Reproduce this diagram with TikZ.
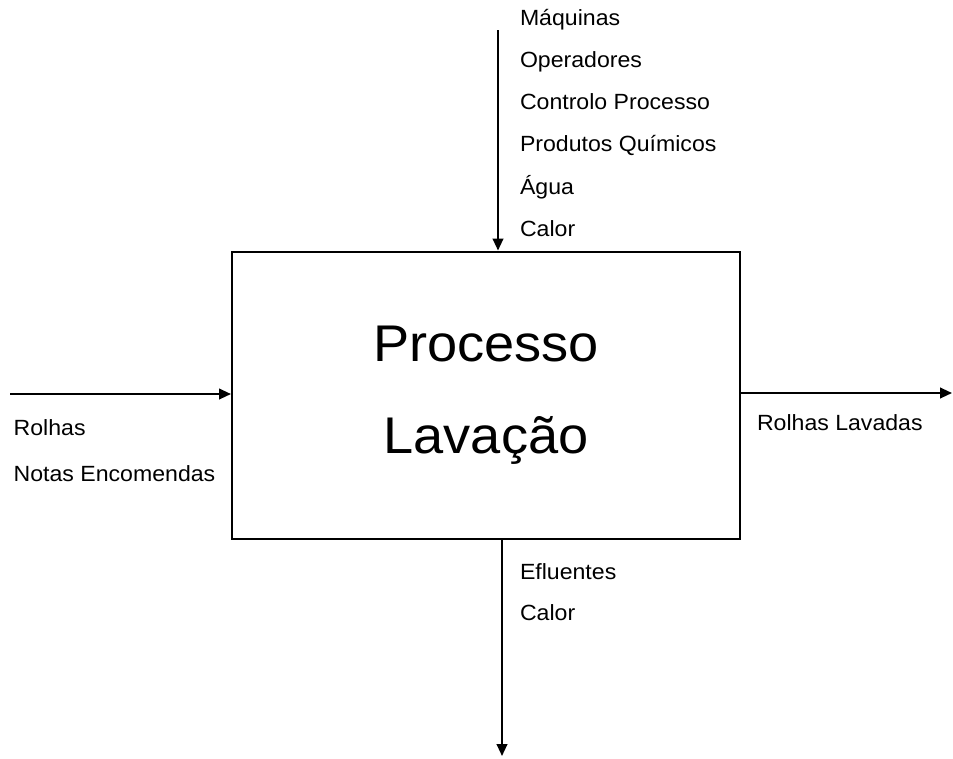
\documentclass[tikz,border=0pt]{standalone}
\usepackage{fontspec}
\setmainfont{Liberation Sans}[FakeStretch=1.05]
\usetikzlibrary{arrows.meta,positioning}

\begin{document}
\begin{tikzpicture}[x=0.75pt,y=-0.75pt,>={Triangle[length=9pt,width=8pt]},line width=1.5pt,
    lbl/.style={anchor=base west,inner sep=0pt,font=\fontsize{16.5}{18}\selectfont}]
  \useasboundingbox (0,0) rectangle (953,758);

  \node[draw,minimum width=381pt,minimum height=215.25pt,inner sep=0pt,align=center,
        font=\fontsize{38.7}{69}\selectfont] (proc) at (486,395) {Processo\\Lavação};

  \coordinate (top_in)    at (498,30);
  \coordinate (left_in)   at (10,394);
  \coordinate (right_out) at (952,393);
  \coordinate (bot_out)   at (502,756);

  \draw[->] (top_in) -- (top_in |- proc.north);
  \draw[->] (left_in) -- (left_in -| proc.west);
  \draw[->] (right_out -| proc.east) -- (right_out);
  \draw[->] (bot_out |- proc.south) -- (bot_out);

  \node[lbl] (t_1) at (519,25)    {Máquinas};
  \node[lbl] (t_2) at (519,67.3)  {Operadores};
  \node[lbl] (t_3) at (519,109.6) {Controlo Processo};
  \node[lbl] (t_4) at (519,151.9) {Produtos Químicos};
  \node[lbl] (t_5) at (519,194.2) {Água};
  \node[lbl] (t_6) at (519,236.7) {Calor};

  \node[lbl] (l_1) at (12.7,435)   {Rolhas};
  \node[lbl] (l_2) at (12.7,481.7) {Notas Encomendas};

  \node[lbl] (r_1) at (756,430) {Rolhas Lavadas};

  \node[lbl] (b_1) at (519,579.3) {Efluentes};
  \node[lbl] (b_2) at (519,620.7) {Calor};
\end{tikzpicture}
\end{document}
